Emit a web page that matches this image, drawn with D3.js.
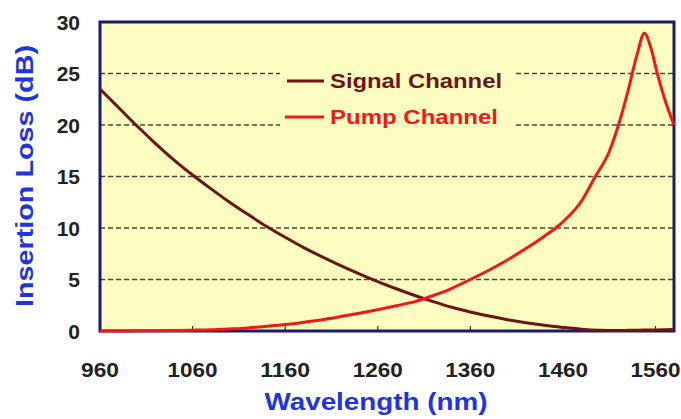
<!DOCTYPE html>
<html>
<head>
<meta charset="utf-8">
<script src="https://cdn.jsdelivr.net/npm/d3@7"></script>
<style>
  body { margin: 0; background: #fff; }
  text { font-family: "Liberation Sans", Arial, sans-serif; font-weight: bold; }
</style>
</head>
<body>
<script>
// wavelength (nm) and insertion loss (dB)
var wavelength = [960,980,1000,1020,1040,1060,1080,1100,1120,1140,1160,1180,1200,1220,1240,1260,1280,1300,1320,1340,1360,1380,1400,1420,1440,1460,1480,1500,1520,1540,1560,1580];
var signalLoss = [23.5,21.7,19.9,18.2,16.6,15.15,13.8,12.5,11.3,10.15,9.1,8.1,7.2,6.35,5.55,4.8,4.1,3.45,2.85,2.3,1.85,1.45,1.1,0.8,0.55,0.35,0.18,0.08,0.05,0.08,0.1,0.15];

var pumpWl   = [960,980,1000,1020,1040,1060,1080,1100,1120,1140,1160,1180,1200,1220,1240,1260,1280,1300,1320,1340,1360,1380,1400,1420,1440,1460,1480,1495,1510,1520,1530,1540,1548,1555,1562,1570,1580];
var pumpLoss = [0,0,0.02,0.03,0.05,0.08,0.12,0.2,0.3,0.45,0.62,0.85,1.1,1.4,1.72,2.07,2.45,2.85,3.45,4.15,5.0,5.9,6.9,8.0,9.2,10.6,12.6,15,17.4,20,23.2,26.8,28.9,27.5,25,22.5,20];

var xTicks = [960,1060,1160,1260,1360,1460,1560];
var yTicks = [0,5,10,15,20,25,30];
var gridVals = [5,10,15,20,25];

var seriesNames = ["Signal Channel","Pump Channel"];
var seriesColors = ["#6e1414","#f21818"];

var W = 681, H = 419;
var svg = d3.select("body").append("svg").attr("width", W).attr("height", H);

var x = d3.scaleLinear().domain([960,1580]).range([100,674]);
var y = d3.scaleLinear().domain([0,30]).range([331,22]);

// plot background
svg.append("rect")
  .attr("x", x(960)).attr("y", y(30))
  .attr("width", x(1580)-x(960)).attr("height", y(0)-y(30))
  .attr("fill", "#fdfdc2");

// dashed grid
svg.selectAll(".grid").data(gridVals).enter().append("line")
  .attr("class","grid")
  .attr("x1", x(960)).attr("x2", x(1580))
  .attr("y1", function(d){ return y(d); }).attr("y2", function(d){ return y(d); })
  .attr("stroke", "#4a4a30").attr("stroke-width", 1.3)
  .attr("stroke-dasharray", "5,3");

// legend box hides the grid behind it
svg.append("rect").attr("x", 280).attr("y", 60).attr("width", 234).attr("height", 76)
  .attr("fill", "#fdfdc2");

// bottom inner ticks
svg.selectAll(".xt").data(xTicks.slice(1)).enter().append("line")
  .attr("x1", function(d){ return x(d); }).attr("x2", function(d){ return x(d); })
  .attr("y1", y(0)).attr("y2", y(0)-5)
  .attr("stroke", "#333").attr("stroke-width", 1.2);

// frame
svg.append("rect")
  .attr("x", x(960)).attr("y", y(30))
  .attr("width", x(1580)-x(960)).attr("height", y(0)-y(30))
  .attr("fill","none").attr("stroke","#1b1b6b").attr("stroke-width", 3);

var line = d3.line().curve(d3.curveMonotoneX);

var signalPts = wavelength.map(function(w,i){ return [x(w), y(signalLoss[i])]; });
var pumpPts = pumpWl.map(function(w,i){ return [x(w), y(pumpLoss[i])]; });

svg.append("path").attr("d", line(signalPts))
  .attr("fill","none").attr("stroke", seriesColors[0]).attr("stroke-width", 3);
svg.append("path").attr("d", line(pumpPts))
  .attr("fill","none").attr("stroke", seriesColors[1]).attr("stroke-width", 3);

// tick labels
svg.selectAll(".xl").data(xTicks).enter().append("text")
  .attr("x", function(d){ return x(d); }).attr("y", 377)
  .attr("text-anchor","middle").attr("font-size", 21).attr("fill","#222")
  .attr("textLength", function(d){ return d < 1000 ? 38 : 50; })
  .attr("lengthAdjust","spacingAndGlyphs")
  .text(function(d){ return d; });

svg.selectAll(".yl").data(yTicks).enter().append("text")
  .attr("x", 80).attr("y", function(d){ return y(d) + 7.5; })
  .attr("text-anchor","end").attr("font-size", 21).attr("fill","#222")
  .text(function(d){ return d; });

// axis titles
svg.append("text")
  .attr("x", 376).attr("y", 410)
  .attr("text-anchor","middle").attr("font-size", 23).attr("fill","#1f34e0")
  .attr("textLength", 223).attr("lengthAdjust","spacingAndGlyphs")
  .text("Wavelength (nm)");

svg.append("text")
  .attr("transform", "translate(33,176) rotate(-90)")
  .attr("text-anchor","middle").attr("font-size", 24).attr("fill","#1f34e0")
  .attr("textLength", 262).attr("lengthAdjust","spacingAndGlyphs")
  .text("Insertion Loss (dB)");

// legend
var legY = [81, 117];
var legX = [287, 285];
var legLen = [172, 168];
for (var i = 0; i < seriesNames.length; i++) {
  svg.append("line")
    .attr("x1", legX[i]).attr("x2", 324).attr("y1", legY[i]).attr("y2", legY[i])
    .attr("stroke", seriesColors[i]).attr("stroke-width", 3);
  svg.append("text")
    .attr("x", 330).attr("y", legY[i] + 7)
    .attr("font-size", 20).attr("fill", seriesColors[i])
    .attr("textLength", legLen[i]).attr("lengthAdjust","spacingAndGlyphs")
    .text(seriesNames[i]);
}
</script>
</body>
</html>
